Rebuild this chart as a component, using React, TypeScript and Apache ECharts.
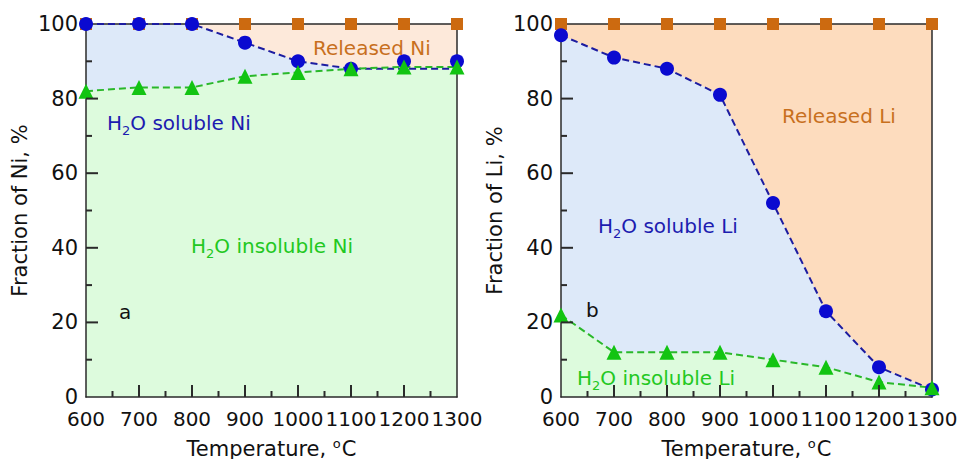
import React, { useEffect, useRef } from "react";
import * as echarts from "echarts";

const temps = [600, 700, 800, 900, 1000, 1100, 1200, 1300];
const xTicks = [600, 700, 800, 900, 1000, 1100, 1200, 1300];
const xMinorTicks = [650, 750, 850, 950, 1050, 1150, 1250];
const yTicks = [0, 20, 40, 60, 80, 100];
const yMinorTicks = [10, 30, 50, 70, 90];

const niReleased = [100, 100, 100, 100, 100, 100, 100, 100];
const niSolublePoints = [100, 100, 100, 95, 90, 88, 90, 90];
const niSolubleLine = [100, 100, 100, 95, 90, 88, 88, 88];
const niInsoluble = [82, 83, 83, 86, 87, 88, 88.5, 88.5];

const liReleased = [100, 100, 100, 100, 100, 100, 100, 100];
const liSoluble = [97, 91, 88, 81, 52, 23, 8, 2];
const liInsoluble = [22, 12, 12, 12, 10, 8, 4, 2.5];

const FONT = "DejaVu Sans";
const C_BLUE_MK = "#0a0ad0";
const C_BLUE_LN = "#1c1ca0";
const C_GREEN_MK = "#12c412";
const C_GREEN_LN = "#2ab82a";
const C_ORANGE_MK = "#cc6a10";
const C_GREEN_FILL = "#ddfbdd";
const C_BLUE_FILL = "#dde9f9";
const C_AXIS = "#2a2a2a";

const pairs = (ys: number[]) => temps.map((t, i) => [t, ys[i]]);

function App() {
  const ref = useRef<HTMLDivElement>(null);
  useEffect(() => {
    if (!ref.current) return;
    const chart = echarts.init(ref.current, undefined, { renderer: "svg" });

    const grids = [
      { left: 86, top: 24, width: 371, height: 373, outerBoundsMode: "none" },
      { left: 561, top: 24, width: 371, height: 373, outerBoundsMode: "none" },
    ];

    const mainX = [0, 1].map((g) => ({
      type: "value",
      gridIndex: g,
      position: "bottom",
      min: xTicks[0],
      max: xTicks[xTicks.length - 1],
      interval: 100,
      name: "Temperature, {sup|o}C",
      nameLocation: "middle",
      nameGap: 40,
      nameTextStyle: {
        fontFamily: FONT,
        fontSize: 21,
        color: "#111",
        rich: {
          sup: { fontSize: 13, verticalAlign: "top", color: "#111", fontFamily: FONT, padding: [0, 1, 10, 0] },
        },
      },
      axisLine: { show: true, onZero: false, lineStyle: { color: C_AXIS, width: 1.5 } },
      axisTick: { show: false },
      minorTick: { show: false },
      splitLine: { show: false },
      axisLabel: {
        fontFamily: FONT,
        fontSize: 20,
        color: "#111",
        margin: 12,
        hideOverlap: false,
        showMinLabel: true,
        showMaxLabel: true,
        formatter: (v: number) => String(v),
      },
    }));
    const frameX = [0, 1].map((g) => ({
      type: "value",
      gridIndex: g,
      position: "top",
      min: xTicks[0],
      max: xTicks[xTicks.length - 1],
      interval: 100,
      axisLine: { show: true, onZero: false, lineStyle: { color: C_AXIS, width: 1.5 } },
      axisTick: { show: false },
      axisLabel: { show: false },
      splitLine: { show: false },
    }));

    const mainY = [0, 1].map((g) => ({
      type: "value",
      gridIndex: g,
      position: "left",
      min: yTicks[0],
      max: yTicks[yTicks.length - 1],
      interval: 20,
      name: g === 0 ? "Fraction of Ni, %" : "Fraction of Li, %",
      nameLocation: "middle",
      nameGap: 56,
      nameTextStyle: { fontFamily: FONT, fontSize: 21, color: "#111" },
      axisLine: { show: true, onZero: false, lineStyle: { color: C_AXIS, width: 1.5 } },
      axisTick: { show: false },
      minorTick: { show: false },
      splitLine: { show: false },
      axisLabel: {
        fontFamily: FONT,
        fontSize: 21,
        color: "#111",
        margin: 8,
        formatter: (v: number) => String(v),
      },
    }));
    const frameY = [0, 1].map((g) => ({
      type: "value",
      gridIndex: g,
      position: "right",
      min: yTicks[0],
      max: yTicks[yTicks.length - 1],
      interval: 20,
      axisLine: { show: true, onZero: false, lineStyle: { color: C_AXIS, width: 1.5 } },
      axisTick: { show: false },
      axisLabel: { show: false },
      splitLine: { show: false },
    }));

    const area = (g: number, ys: number[], color: string, z: number) => ({
      type: "line",
      xAxisIndex: g,
      yAxisIndex: g,
      data: pairs(ys),
      showSymbol: false,
      lineStyle: { width: 0, opacity: 0 },
      areaStyle: { color, opacity: 1 },
      z,
      silent: true,
    });
    const dashed = (g: number, ys: number[], color: string) => ({
      type: "line",
      xAxisIndex: g,
      yAxisIndex: g,
      data: pairs(ys),
      showSymbol: false,
      lineStyle: { color, width: 2, type: [7, 4] },
      z: 40,
    });
    const marks = (g: number, ys: number[], symbol: string, size: number, color: string) => ({
      type: "scatter",
      xAxisIndex: g,
      yAxisIndex: g,
      data: pairs(ys),
      symbol,
      symbolSize: size,
      itemStyle: { color, opacity: 1 },
      clip: false,
      z: 50,
    });

    const series = [
      area(0, niReleased, "#fde9da", -6),
      area(0, niSolubleLine, C_BLUE_FILL, -5),
      area(0, niInsoluble, C_GREEN_FILL, -4),
      dashed(0, niSolubleLine, C_BLUE_LN),
      dashed(0, niInsoluble, C_GREEN_LN),
      marks(0, niReleased, "rect", 12, C_ORANGE_MK),
      marks(0, niSolublePoints, "circle", 14, C_BLUE_MK),
      marks(0, niInsoluble, "triangle", 15, C_GREEN_MK),

      area(1, liReleased, "#fddcbe", -6),
      area(1, liSoluble, C_BLUE_FILL, -5),
      area(1, liInsoluble, C_GREEN_FILL, -4),
      dashed(1, liSoluble, C_BLUE_LN),
      dashed(1, liInsoluble, C_GREEN_LN),
      marks(1, liReleased, "rect", 12, C_ORANGE_MK),
      marks(1, liSoluble, "circle", 14, C_BLUE_MK),
      marks(1, liInsoluble, "triangle", 15, C_GREEN_MK),
    ];

    const richFor = (fill: string) => ({
      n: { fontFamily: FONT, fontSize: 20, fill, lineHeight: 28, verticalAlign: "middle" },
      s: { fontFamily: FONT, fontSize: 13, fill, lineHeight: 28, verticalAlign: "bottom" },
    });
    const label = (x: number, y: number, text: string, fill: string) => ({
      type: "text",
      x,
      y,
      z: 100,
      style: {
        text,
        rich: richFor(fill),
        textAlign: "left",
        textVerticalAlign: "middle",
        verticalAlign: "middle",
      },
    });

    chart.setOption({
      animation: false,
      grid: grids,
      xAxis: [...mainX, ...frameX],
      yAxis: [...mainY, ...frameY],
      series,
    });

    // Inward tick marks, placed through the axes' own scales (convertToPixel).
    const inner = (arr: number[]) => arr.slice(1, arr.length - 1);
    const tickLines: any[] = [];
    const seg = (x1: number, y1: number, x2: number, y2: number) => ({
      type: "line",
      z: 95,
      silent: true,
      shape: { x1, y1, x2, y2 },
      style: { stroke: C_AXIS, lineWidth: 2 },
    });
    [0, 1].forEach((g) => {
      const xs: [number, number][] = [
        ...inner(xTicks).map((v) => [v, 12] as [number, number]),
        ...xMinorTicks.map((v) => [v, 6] as [number, number]),
      ];
      xs.forEach(([v, len]) => {
        const p = chart.convertToPixel({ gridIndex: g }, [v, yTicks[0]]) as number[];
        if (p) tickLines.push(seg(p[0], p[1], p[0], p[1] - len));
      });
      const ys: [number, number][] = [
        ...inner(yTicks).map((v) => [v, 12] as [number, number]),
        ...yMinorTicks.map((v) => [v, 6] as [number, number]),
      ];
      ys.forEach(([v, len]) => {
        const p = chart.convertToPixel({ gridIndex: g }, [xTicks[0], v]) as number[];
        if (p) tickLines.push(seg(p[0], p[1], p[0] + len, p[1]));
      });
    });

    chart.setOption({
      graphic: [
        label(313, 48, "{n|Released Ni}", "#c8701e"),
        label(107, 123, "{n|H}{s|2}{n|O soluble Ni}", "#1c1cb0"),
        label(191, 246, "{n|H}{s|2}{n|O insoluble Ni}", "#22c822"),
        label(119, 312, "{n|a}", "#111"),
        label(782, 116, "{n|Released Li}", "#c8701e"),
        label(598, 226, "{n|H}{s|2}{n|O soluble Li}", "#1c1cb0"),
        label(586, 310, "{n|b}", "#111"),
        label(577, 378, "{n|H}{s|2}{n|O insoluble Li}", "#22c822"),
        ...tickLines,
      ],
    });
    return () => chart.dispose();
  }, []);

  return (
    <div
      ref={ref}
      style={{ position: "absolute", left: 0, top: 0, width: 963, height: 459, background: "#fff" }}
    />
  );
}

export default App;
